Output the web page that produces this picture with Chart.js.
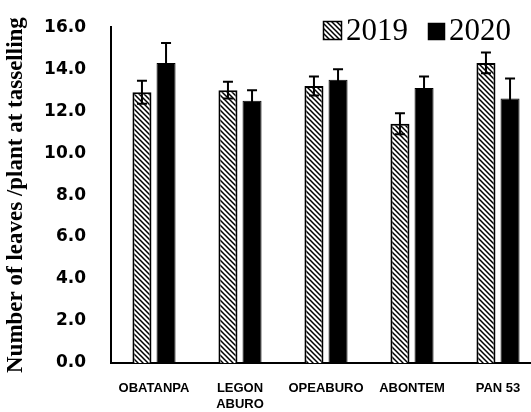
<!DOCTYPE html>
<html>
<head>
<meta charset="utf-8">
<script src="https://cdn.jsdelivr.net/npm/chart.js@4/dist/chart.umd.min.js"></script>
<style>
  html, body { margin: 0; padding: 0; background: #fff; overflow: hidden; }
  #wrap { width: 545px; height: 412px; }
</style>
</head>
<body>
<div id="wrap"><canvas id="grafico" width="545" height="412"></canvas></div>
<script>
const variedades = ["OBATANPA", ["LEGON", "ABURO"], "OPEABURO", "ABONTEM", "PAN 53"];
const folhas2019 = [12.9, 13.0, 13.2, 11.4, 14.3];
const folhas2020 = [14.3, 12.5, 13.5, 13.1, 12.6];
const erro2019 = [0.55, 0.4, 0.45, 0.5, 0.5];
const erro2020 = [0.95, 0.5, 0.5, 0.55, 0.95];
const ticksY = [0, 2, 4, 6, 8, 10, 12, 14, 16];

/* hachurado \\\ */
function hachura() {
  const n = 5;
  const c = document.createElement("canvas");
  c.width = n; c.height = n;
  const g = c.getContext("2d");
  g.fillStyle = "#fff";
  g.fillRect(0, 0, n, n);
  g.strokeStyle = "#000";
  g.lineWidth = 1.5;
  g.beginPath();
  g.moveTo(-1, -1); g.lineTo(n + 1, n + 1);
  g.moveTo(n - 1, -1); g.lineTo(n + 1, 1);
  g.moveTo(-1, n - 1); g.lineTo(1, n + 1);
  g.stroke();
  return g.createPattern(c, "repeat");
}
const padrao = hachura();

/* barras de erro */
const barrasErro = {
  id: "barrasErro",
  afterDatasetsDraw(chart) {
    const ctx = chart.ctx;
    const y = chart.scales.y;
    const erros = [erro2019, erro2020];
    ctx.save();
    ctx.strokeStyle = "#000";
    ctx.lineWidth = 2;
    chart.data.datasets.forEach((ds, i) => {
      chart.getDatasetMeta(i).data.forEach((bar, j) => {
        const v = ds.data[j], e = erros[i][j];
        const x = bar.x;
        const yt = y.getPixelForValue(v + e);
        const yb = y.getPixelForValue(v - e);
        ctx.beginPath();
        ctx.moveTo(x, yb); ctx.lineTo(x, yt);
        ctx.moveTo(x - 5, yt); ctx.lineTo(x + 5, yt);
        ctx.moveTo(x - 5, yb); ctx.lineTo(x + 5, yb);
        ctx.stroke();
      });
    });
    ctx.restore();
  }
};

/* legenda dentro do gráfico */
const legenda = {
  id: "legenda",
  afterDraw(chart) {
    const ctx = chart.ctx;
    const itens = [
      { x: 323, caixa: 19, cor: padrao },
      { x: 428, caixa: 17, cor: "#000" }
    ];
    ctx.save();
    ctx.font = "31px 'Liberation Serif'";
    ctx.textBaseline = "alphabetic";
    chart.data.datasets.forEach((ds, i) => {
      const it = itens[i];
      const topo = 40 - it.caixa;
      ctx.fillStyle = it.cor;
      ctx.fillRect(it.x, topo, it.caixa, it.caixa);
      ctx.strokeStyle = "#000";
      ctx.lineWidth = 1.5;
      ctx.strokeRect(it.x + 0.5, topo + 0.5, it.caixa - 1, it.caixa - 1);
      ctx.fillStyle = "#000";
      ctx.fillText(ds.label, it.x + it.caixa + 4, 40);
    });
    ctx.restore();
  }
};

new Chart(document.getElementById("grafico"), {
  type: "bar",
  data: {
    labels: variedades,
    datasets: [
      { label: "2019", data: folhas2019, backgroundColor: padrao, borderColor: "#000", borderWidth: 2 },
      { label: "2020", data: folhas2020, backgroundColor: "#000", borderColor: "#000", borderWidth: 1 }
    ]
  },
  options: {
    responsive: false,
    animation: false,
    categoryPercentage: 0.56,
    barPercentage: 0.79,
    layout: { padding: { top: 25, left: 0, right: 4, bottom: 0 } },
    plugins: {
      tooltip: { enabled: false },
      legend: { display: false }
    },
    scales: {
      x: {
        grid: { display: false },
        border: { color: "#000", width: 2 },
        ticks: {
          color: "#000",
          font: { family: "Liberation Sans", size: 13, weight: "bold" },
          maxRotation: 0,
          autoSkip: false,
          padding: 10
        },
        afterFit(s) { s.height = 49; }
      },
      y: {
        min: 0,
        max: 16,
        grid: { display: false },
        border: { color: "#000", width: 2 },
        afterBuildTicks(s) { s.ticks = ticksY.map(v => ({ value: v })); },
        ticks: {
          color: "#000",
          font: { family: "DejaVu Sans", size: 17, weight: "bold" },
          padding: 17,
          callback: v => v.toFixed(1)
        },
        title: {
          display: true,
          text: "Number of leaves /plant at tasselling",
          color: "#000",
          font: { family: "Liberation Serif", size: 23, weight: "bold" },
          padding: { top: 2, bottom: 4 }
        },
        afterFit(s) { s.width = 111; }
      }
    }
  },
  plugins: [barrasErro, legenda]
});
</script>
</body>
</html>
